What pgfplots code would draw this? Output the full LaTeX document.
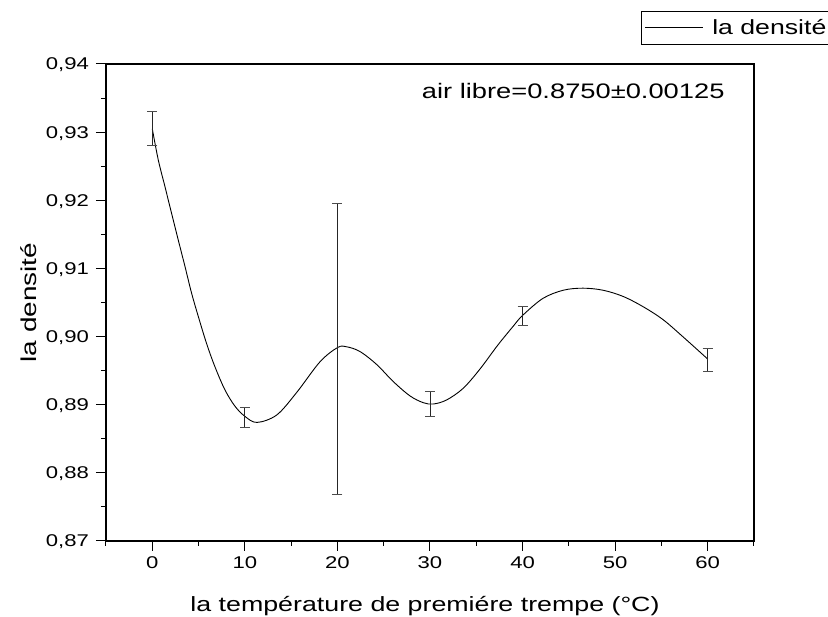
\documentclass[border=0pt]{standalone}
\usepackage{fontspec}
\setmainfont{Liberation Sans}[FakeStretch=1.3]
\usepackage{pgfplots}
\pgfplotsset{compat=1.18}
\begin{document}
\begin{tikzpicture}
\path[use as bounding box] (-106pt,-76pt) rectangle (722pt,541pt);
\begin{axis}[
  at={(0pt,0pt)}, anchor=south west,
  scale only axis, width=648pt, height=477pt,
  xmin=-5, xmax=65, ymin=0.87, ymax=0.94,
  xtick={0,10,...,60},
  minor xtick={-5,5,...,65},
  ytick={0.87,0.88,...,0.94},
  minor ytick={0.875,0.885,0.895,0.905,0.915,0.925,0.935},
  xtick pos=bottom, ytick pos=left,
  tick align=outside,
  major tick length=10pt, minor tick length=5pt,
  every tick/.style={black, line width=1pt},
  axis line style={black, line width=1.2pt},
  /pgf/number format/assume math mode=true,
  xticklabel={\pgfmathprintnumber[assume math mode=true]{\tick}},
  yticklabel={\pgfmathprintnumber[fixed,fixed zerofill,precision=2,use comma,assume math mode=true]{\tick}},
  ticklabel style={font=\fontsize{17}{20}\selectfont},
  xticklabel style={yshift=-2.6pt},
  yticklabel style={anchor=base east, xshift=-3.5pt, yshift=-6pt},
  scaled y ticks=false,
  xlabel={la température de premiére trempe (°C)},
  ylabel={la densité},
  xlabel style={at={(axis description cs:0.4923,-0.1488)}, anchor=base, font=\fontsize{20.6}{24}\selectfont},
  ylabel style={at={(axis description cs:-0.1065,0.5)}, anchor=base, font=\fontsize{21.5}{25}\selectfont},
  legend style={at={(axis description cs:0.8256,1.111)}, anchor=north west,
    draw=black, line width=0.8pt, font=\fontsize{20.5}{24}\selectfont,
    inner xsep=3pt, inner ysep=6pt},
  legend image code/.code={\draw[#1] (0pt,0pt) -- (58pt,0pt);},
]
% traced spline curve
\addplot[black, line width=0.9pt, smooth, tension=0.55, mark=none] coordinates {
(0.0,0.9305) (0.65,0.9259) (1.37,0.9220) (2.08,0.9181) (2.80,0.9142)
(3.53,0.9103) (4.24,0.9064) (4.96,0.9030) (5.86,0.8990) (6.76,0.8956)
(7.84,0.8922) (8.92,0.8898) (10.0,0.8883) (11.3,0.8874)
(13.45,0.8885) (15.6,0.8918) (18.12,0.8963) (20.03,0.8984) (21.0,0.8985)
(22.44,0.8978) (24.24,0.8959) (26.03,0.8934) (27.83,0.8913) (29.27,0.8903)
(30.35,0.8901) (31.8,0.8907) (33.58,0.8924) (35.38,0.8952) (37.3,0.8987)
(38.98,0.9015) (40.0,0.9031) (42.2,0.9056) (44.4,0.9068) (46.53,0.9071)
(48.69,0.9068) (50.84,0.9059) (53.0,0.9044) (55.16,0.9025) (57.3,0.9000)
(60.0,0.8967)
};
\addlegendentry{\hspace{7pt}la densité}
% data points with error bars (no visible marker)
\addplot[draw=none, mark=none, forget plot,
  error bars/.cd, y dir=both, y explicit,
  error bar style={line width=0.9pt, draw=black!85},
  error mark options={rotate=90, mark size=5pt, line width=0.9pt, draw=black!70}]
  table[x=x, y=y, y error=e] {
x y e
0 0.9305 0.0025
10 0.8881 0.0015
20 0.8982 0.0214
30 0.8901 0.0018
40 0.9030 0.00135
60 0.8966 0.00165
};
\node[anchor=base west, font=\fontsize{21}{25}\selectfont, inner sep=0pt]
  at (axis description cs:0.4872,0.9287) {air libre=0.8750±0.00125};
\end{axis}
\end{tikzpicture}
\end{document}
